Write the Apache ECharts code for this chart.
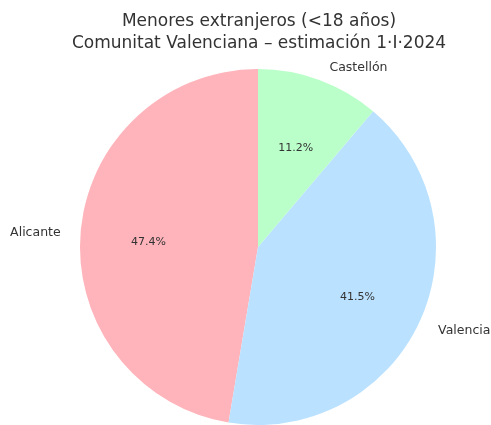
<!DOCTYPE html>
<html>
<head>
<meta charset="utf-8">
<script src="https://cdn.jsdelivr.net/npm/echarts@6/dist/echarts.min.js"></script>
<style>
  html, body { margin: 0; padding: 0; background: #fff; }
  #chart { width: 491px; height: 425px; }
</style>
</head>
<body>
<div id="chart"></div>
<script>
// provincias y porcentaje de menores extranjeros
const provincias = ['Alicante', 'Valencia', 'Castellón'];
const porcentajes = [47.4, 41.5, 11.2];
const colores = ['#ffb3ba', '#bae1ff', '#baffc9'];

const font = 'DejaVu Sans';
const center = [258, 247];
const R = 178;

const data = provincias.map((name, i) => ({
  name,
  value: porcentajes[i],
  itemStyle: { color: colores[i] }
}));

const option = {
  animation: false,
  title: {
    text: 'Menores extranjeros (<18 años)\nComunitat Valenciana – estimación 1·I·2024',
    left: 254,
    textAlign: 'center',
    top: 6,
    textStyle: {
      fontFamily: font,
      fontSize: 17,
      fontWeight: 'normal',
      color: '#333',
      lineHeight: 22
    }
  },
  series: [
    {
      type: 'pie',
      center,
      radius: R,
      startAngle: 90,
      clockwise: false,
      avoidLabelOverlap: false,
      silent: true,
      data,
      label: {
        show: true,
        position: 'outside',
        fontFamily: font,
        fontSize: 12.5,
        color: '#333',
        overflow: 'none',
        offset: [0, 2],
        formatter: '{b}'
      },
      labelLine: { show: false, length: 15, length2: 0 }
    },
    {
      // capa transparente solo para los porcentajes
      type: 'pie',
      center,
      radius: [R * 0.2, R],
      startAngle: 90,
      clockwise: false,
      avoidLabelOverlap: false,
      silent: true,
      data: provincias.map((name, i) => ({
        name,
        value: porcentajes[i],
        itemStyle: { color: 'transparent' }
      })),
      label: {
        show: true,
        position: 'inside',
        fontFamily: font,
        fontSize: 11,
        color: '#333',
        offset: [0, 4],
        formatter: p => p.value.toFixed(1) + '%'
      },
      labelLine: { show: false }
    }
  ]
};

const myChart = echarts.init(document.getElementById('chart'));
myChart.setOption(option);
</script>
</body>
</html>
